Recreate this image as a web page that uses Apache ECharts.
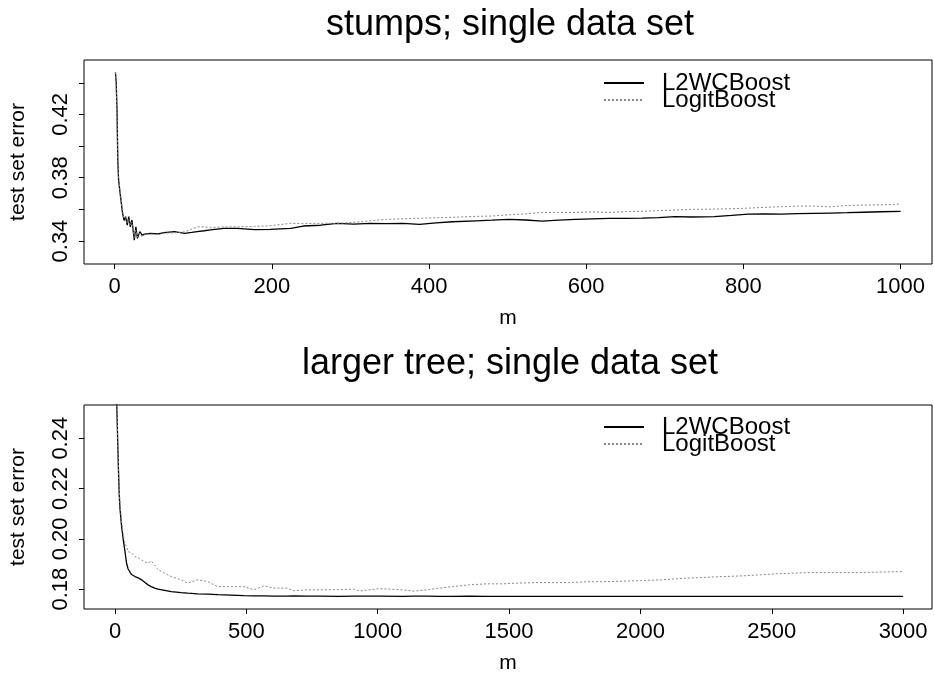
<!DOCTYPE html>
<html>
<head>
<meta charset="utf-8">
<script src="https://cdn.jsdelivr.net/npm/echarts@6/dist/echarts.min.js"></script>
<style>
  html, body { margin: 0; padding: 0; background: #fff; }
  #chart { width: 934px; height: 679px; }
</style>
</head>
<body>
<div id="chart"></div>
<script>
// stumps panel
const mTop = [1, 2, 3, 4, 5, 7, 8, 10, 12, 14,
  16, 18, 20, 22, 25, 27, 29, 32, 35, 38,
  46, 55, 63, 76, 89, 98, 105, 114, 122, 139,
  156, 178, 198, 224, 240, 262, 283, 304, 325, 346,
  367, 388, 409, 430, 460, 480, 502, 523, 544, 565,
  586, 608, 629, 650, 671, 692, 713, 734, 763, 785,
  806, 827, 848, 869, 890, 911, 932, 953, 975, 1000];
const l2Top = [0.4466, 0.440, 0.4228, 0.3912, 0.3785, 0.370, 0.366, 0.3577, 0.353, 0.3554,
  0.350, 0.3554, 0.349, 0.3533, 0.3406, 0.349, 0.3417, 0.3459, 0.3438, 0.3444,
  0.3449, 0.3445, 0.3453, 0.3459, 0.3449, 0.3455, 0.346, 0.3465, 0.347, 0.348,
  0.348, 0.3472, 0.3474, 0.348, 0.3495, 0.350, 0.3512, 0.3507, 0.3512, 0.351,
  0.3512, 0.3505, 0.3515, 0.3522, 0.3528, 0.3532, 0.3537, 0.3533, 0.3526, 0.3532,
  0.3537, 0.354, 0.3543, 0.3543, 0.3545, 0.3548, 0.3554, 0.3552, 0.3554, 0.3562,
  0.357, 0.3571, 0.357, 0.3573, 0.3575, 0.3577, 0.3579, 0.3582, 0.3585, 0.3587];
const logitTop = [0.4466, 0.438, 0.420, 0.392, 0.380, 0.371, 0.367, 0.359, 0.354, 0.356,
  0.351, 0.354, 0.350, 0.352, 0.342, 0.347, 0.3425, 0.345, 0.3425, 0.344,
  0.3445, 0.344, 0.345, 0.3452, 0.3458, 0.3475, 0.349, 0.349, 0.3485, 0.349,
  0.349, 0.3492, 0.3497, 0.3512, 0.351, 0.3512, 0.3512, 0.3518, 0.3528, 0.3537,
  0.3541, 0.3544, 0.3547, 0.355, 0.3556, 0.3558, 0.3566, 0.3572, 0.3581, 0.3581,
  0.3581, 0.3584, 0.3581, 0.3586, 0.3588, 0.3592, 0.3596, 0.36, 0.3602, 0.3604,
  0.3608, 0.3613, 0.3617, 0.3621, 0.3621, 0.3616, 0.3625, 0.3627, 0.3629, 0.3634];

// larger tree panel
const mBot = [1, 4, 7, 10, 13, 16, 19, 25, 31, 38,
  44, 50, 63, 76, 88, 101, 114, 126, 138, 151,
  164, 189, 214, 252, 277, 315, 353, 391, 441, 491,
  529, 567, 605, 655, 680, 730, 781, 850, 907, 933,
  1008, 1096, 1134, 1185, 1235, 1285, 1349, 1411, 1474, 1538,
  1600, 1664, 1727, 1790, 1890, 2000, 2079, 2150, 2268, 2394,
  2520, 2646, 2750, 2835, 2920, 3000];
const l2Bot = [0.320, 0.270, 0.252, 0.240, 0.228, 0.218, 0.212, 0.205, 0.200, 0.195,
  0.1903, 0.188, 0.1858, 0.1850, 0.1845, 0.1837, 0.1826, 0.1817, 0.181, 0.1804,
  0.180, 0.1795, 0.179, 0.1786, 0.1784, 0.1781, 0.178, 0.1778, 0.1776, 0.1774,
  0.1773, 0.1773, 0.1772, 0.1772, 0.1773, 0.1772, 0.1772, 0.1771, 0.1772, 0.1772,
  0.1772, 0.1771, 0.1772, 0.1772, 0.1771, 0.1771, 0.1772, 0.1771, 0.1771, 0.1771,
  0.1771, 0.1771, 0.1771, 0.1771, 0.1771, 0.1771, 0.1771, 0.1771, 0.1771, 0.1771,
  0.1771, 0.1771, 0.1771, 0.1771, 0.1771, 0.1771];
const logitBot = [0.320, 0.270, 0.253, 0.241, 0.229, 0.220, 0.214, 0.207, 0.202, 0.198,
  0.1969, 0.1949, 0.1945, 0.1929, 0.1925, 0.1916, 0.1908, 0.1903, 0.1912, 0.1895,
  0.1877, 0.1863, 0.185, 0.1837, 0.1824, 0.1837, 0.183, 0.181, 0.181, 0.181,
  0.1797, 0.1813, 0.1804, 0.1804, 0.1794, 0.1797, 0.1797, 0.1798, 0.18, 0.1793,
  0.1802, 0.1797, 0.1792, 0.1797, 0.1804, 0.181, 0.1817, 0.1821, 0.1821, 0.1824,
  0.1826, 0.1826, 0.1826, 0.1829, 0.183, 0.1834, 0.1837, 0.1842, 0.1848, 0.1853,
  0.1861, 0.1866, 0.1866, 0.1866, 0.1868, 0.187];

const xTicksTop = [0, 200, 400, 600, 800, 1000];
const xTicksBot = [0, 500, 1000, 1500, 2000, 2500, 3000];
const yTicksTop = [0.34, 0.36, 0.38, 0.40, 0.42, 0.44];
const yLabelsTop = [0.34, 0.38, 0.42];
const yTicksBot = [0.18, 0.20, 0.22, 0.24];

const titles = ['stumps; single data set', 'larger tree; single data set'];
const seriesNames = ['L2WCBoost', 'LogitBoost'];

const FONT = '"Liberation Sans", Arial, sans-serif';

function pairs(xs, ys) {
    return xs.map((x, i) => [x, ys[i]]);
}

function xAxisFor(idx, min, max, ticks) {
    return {
        type: 'value', gridIndex: idx, min: min, max: max,
        name: 'm', nameLocation: 'middle', nameGap: 44,
        nameTextStyle: { color: '#000', fontSize: 21, fontFamily: FONT },
        axisLine: { show: false, onZero: false },
        splitLine: { show: false },
        axisTick: { show: true, length: 5, customValues: ticks, lineStyle: { color: '#000' } },
        axisLabel: { customValues: ticks, color: '#000', fontSize: 22, fontFamily: FONT, margin: 12,
                     formatter: v => String(v) }
    };
}

function yAxisFor(idx, min, max, ticks, labels) {
    return {
        type: 'value', gridIndex: idx, min: min, max: max,
        name: 'test set error', nameLocation: 'middle', nameGap: 55, nameRotate: 90,
        nameTextStyle: { color: '#000', fontSize: 21, fontFamily: FONT },
        axisLine: { show: false, onZero: false },
        splitLine: { show: false },
        axisTick: { show: true, length: 5, customValues: ticks, lineStyle: { color: '#000' } },
        axisLabel: {
            customValues: labels, rotate: 90, color: '#000', fontSize: 22, fontFamily: FONT, margin: 12,
            formatter: v => Number(v).toFixed(2)
        }
    };
}

function legendFor(top) {
    return {
        data: seriesNames.map(n => ({ name: n })),
        orient: 'vertical', left: 603, top: top, itemGap: -7, padding: 0,
        itemWidth: 40, itemHeight: 10,
        itemStyle: { opacity: 0 },
        textStyle: { color: '#000', fontSize: 24, fontFamily: FONT, padding: [0, 0, 0, 13] },
        selectedMode: false
    };
}

const chart = echarts.init(document.getElementById('chart'), null, { renderer: 'canvas' });
chart.setOption({
    animation: false,
    backgroundColor: '#fff',
    title: [
        { text: titles[0], left: 505, top: 2, textAlign: 'center',
          textStyle: { color: '#000', fontSize: 36, fontWeight: 'normal', fontFamily: FONT } },
        { text: titles[1], left: 505, top: 341, textAlign: 'center',
          textStyle: { color: '#000', fontSize: 36, fontWeight: 'normal', fontFamily: FONT } }
    ],
    legend: [legendFor(71), legendFor(415)],
    grid: [
        { left: 79, top: 60, width: 853, height: 204, show: true, borderColor: '#000', borderWidth: 1 },
        { left: 79, top: 405, width: 853, height: 204, show: true, borderColor: '#000', borderWidth: 1 }
    ],
    xAxis: [
        xAxisFor(0, -39, 1040, xTicksTop),
        xAxisFor(1, -118, 3110, xTicksBot)
    ],
    yAxis: [
        yAxisFor(0, 0.3255, 0.4544, yTicksTop, yLabelsTop),
        yAxisFor(1, 0.1721, 0.2532, yTicksBot, yTicksBot)
    ],
    series: [
        { name: seriesNames[0], type: 'line', xAxisIndex: 0, yAxisIndex: 0, symbol: 'none', clip: true,
          data: pairs(mTop, l2Top), lineStyle: { color: '#000', width: 1.3 }, itemStyle: { color: '#000' } },
        { name: seriesNames[1], type: 'line', xAxisIndex: 0, yAxisIndex: 0, symbol: 'none', clip: true,
          data: pairs(mTop, logitTop), lineStyle: { color: '#888', width: 1, type: [2, 2] }, itemStyle: { color: '#888' } },
        { name: seriesNames[0], type: 'line', xAxisIndex: 1, yAxisIndex: 1, symbol: 'none', clip: true,
          data: pairs(mBot, l2Bot), lineStyle: { color: '#000', width: 1.3 }, itemStyle: { color: '#000' } },
        { name: seriesNames[1], type: 'line', xAxisIndex: 1, yAxisIndex: 1, symbol: 'none', clip: true,
          data: pairs(mBot, logitBot), lineStyle: { color: '#888', width: 1, type: [2, 2] }, itemStyle: { color: '#888' } }
    ]
});
</script>
</body>
</html>
